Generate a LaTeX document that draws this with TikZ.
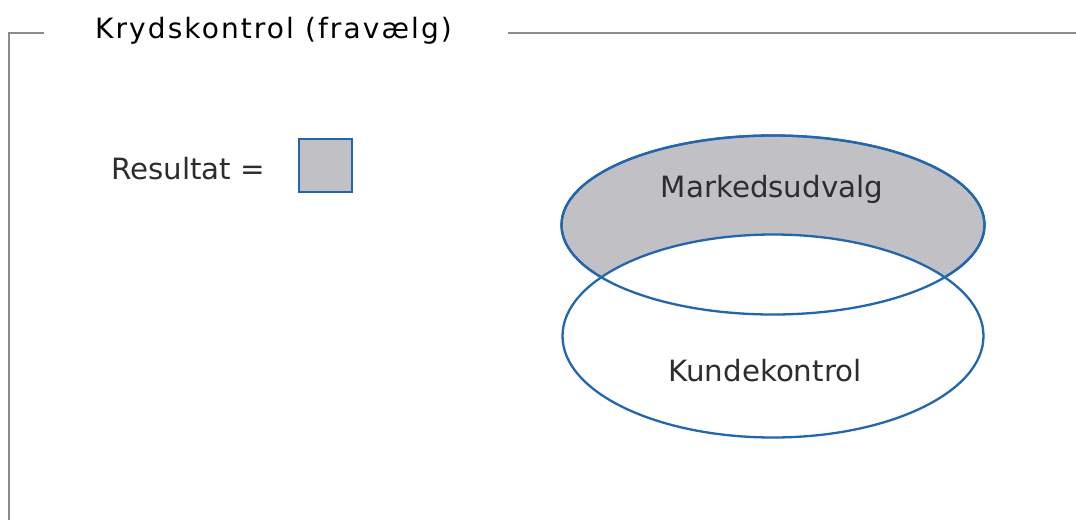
\documentclass[tikz,border=0pt]{standalone}
\usepackage{fontspec}
\setmainfont{DejaVu Sans}
\newfontfamily\headfont[LetterSpace=7.5]{DejaVu Sans}
\usetikzlibrary{shapes.geometric}

\definecolor{setgray}{RGB}{193,192,197}
\definecolor{setblue}{RGB}{35,102,172}
\definecolor{framegray}{RGB}{140,140,140}
\definecolor{inkgray}{RGB}{45,45,45}

\begin{document}
\begin{tikzpicture}[
  x=1pt, y=-1pt,
  frame/.style={draw=framegray, line width=2pt},
  title/.style={font=\headfont\fontsize{28}{33}\selectfont, text=black, anchor=base west, inner sep=0pt},
  setlabel/.style={font=\fontsize{29.3}{34}\selectfont, text=inkgray, anchor=base, inner sep=0pt},
  venn/.style={ellipse, draw=setblue, line width=2.3pt, inner sep=0pt},
  keybox/.style={draw=setblue, fill=setgray, line width=2pt, minimum size=53pt, inner sep=0pt},
]
  \useasboundingbox (0,0) rectangle (1076,520);

  % Frame with the title set into its top edge.
  \node[title] (head) at (95,38) {Krydskontrol (fravælg)};
  \coordinate (fbl) at (9,520);
  \coordinate (ftl) at (9,33);
  \coordinate (ftr) at (1076,33);
  \draw[frame] (fbl) -- (ftl) -- (44,33);
  \draw[frame] (508,33) -- (ftr);

  % Legend: the shaded area is the result.
  \node[setlabel, anchor=base west] (res) at (111,179) {Resultat =};
  \node[keybox] (key) at (325,165) {};

  % Two sets; the customer set cuts away part of the market selection.
  \node[venn, fill=setgray, minimum width=423pt, minimum height=179pt] (mkt) at (773,225) {};
  \node[venn, fill=white, minimum width=421pt, minimum height=203pt] (kunde) at (773,336) {};
  \node[venn, minimum width=423pt, minimum height=179pt] (mktrim) at (mkt.center) {};
  \node[setlabel] (mktlbl) at (772,197) {Markedsudvalg};
  \node[setlabel] (kundelbl) at (765,381) {Kundekontrol};
\end{tikzpicture}
\end{document}
